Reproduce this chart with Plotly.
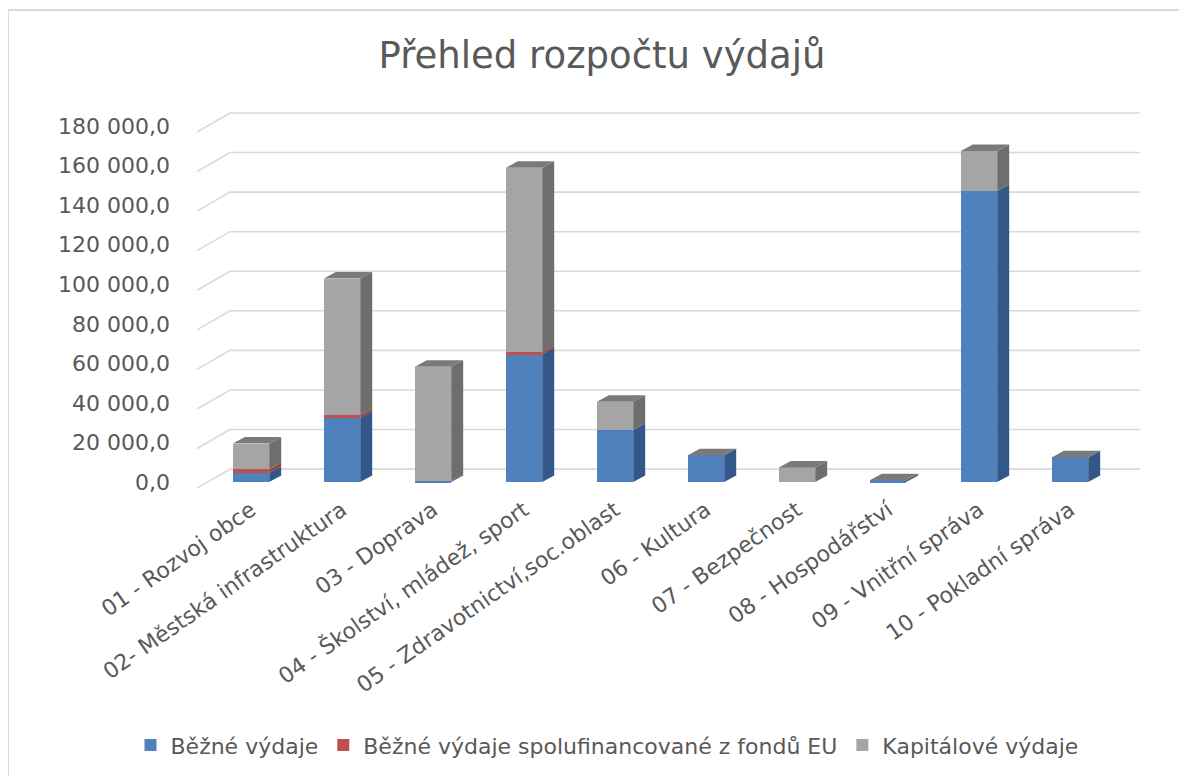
import plotly.graph_objects as go

# ---------------- data ----------------
categories = [
    "01 - Rozvoj obce",
    "02- Městská infrastruktura",
    "03 - Doprava",
    "04 - Školství, mládež, sport",
    "05 - Zdravotnictví,soc.oblast",
    "06 - Kultura",
    "07 - Bezpečnost",
    "08 - Hospodářství",
    "09 - Vnitřní správa",
    "10 - Pokladní správa",
]
bezne_vydaje = [4700, 32500, 500, 64600, 26300, 13600, 0, 1000, 147100, 12500]
bezne_eu = [1700, 1300, 0, 1000, 0, 0, 0, 0, 0, 0]
kapitalove = [13100, 69100, 57800, 93300, 14300, 0, 7400, 0, 20200, 0]

series_names = ["Běžné výdaje", "Běžné výdaje spolufinancované z fondů EU", "Kapitálové výdaje"]
tick_values = [0, 20000, 40000, 60000, 80000, 100000, 120000, 140000, 160000, 180000]
tick_labels = ["0,0", "20 000,0", "40 000,0", "60 000,0", "80 000,0", "100 000,0",
               "120 000,0", "140 000,0", "160 000,0", "180 000,0"]

# ---------------- styling / geometry ----------------
OFF = 8                      # page body margin in the browser
W, H = 1187 - OFF, 776 - OFF
front_colors = ["#4f81bd", "#c0504d", "#a5a5a5"]
side_colors = ["#34578a", "#963c3a", "#6e6e6e"]
top_color = "#7a7a7a"
grid_color = "#d9d9d9"
text_color = "#595959"
FONT = "DejaVu Sans"

# target geometry in screen pixels
plot_left_s, plot_right_s, plot_top_s = 185, 1150, 100
zero_s = 482.0
px_per_unit = 1.978 / 1000.0
px_per_cat = 91.0
first_center_s = 251.0
ymin = -5000
plot_bottom_s = zero_s - ymin * px_per_unit

margin_l = plot_left_s - OFF
margin_r = W - (plot_right_s - OFF)
margin_t = plot_top_s - OFF
margin_b = H - (plot_bottom_s - OFF)
plot_w = W - margin_l - margin_r
plot_h = H - margin_t - margin_b
ymax = ymin + plot_h / px_per_unit
xmin = (plot_left_s - first_center_s) / px_per_cat
xmax = (plot_right_s - first_center_s) / px_per_cat

bar_w = 0.4
dx = 12.0 / px_per_cat
dy = 6.5 / px_per_unit

def sx(px):   # screen x -> paper
    return (px - plot_left_s) / plot_w

def sy(py):   # screen y -> paper
    return (plot_bottom_s - py) / plot_h

fig = go.Figure()

x_pos = list(range(len(categories)))
all_series = [bezne_vydaje, bezne_eu, kapitalove]

for name, vals, col in zip(series_names, all_series, front_colors):
    fig.add_trace(go.Bar(
        x=x_pos, y=vals, name=name, width=bar_w,
        marker=dict(color=col, line=dict(width=0)),
        hoverinfo="skip",
    ))

# 3D side and top faces, derived from the data
for i in x_pos:
    base = 0
    xr = i + bar_w / 2
    xl = i - bar_w / 2
    for s, vals in enumerate(all_series):
        v = vals[i]
        if v > 0:
            y0, y1 = base, base + v
            fig.add_trace(go.Scatter(
                x=[xr, xr + dx, xr + dx, xr, xr],
                y=[y0, y0 + dy, y1 + dy, y1, y0],
                fill="toself", fillcolor=side_colors[s], mode="lines",
                line=dict(width=0, color=side_colors[s]),
                showlegend=False, hoverinfo="skip",
            ))
        base += v
    T = base
    fig.add_trace(go.Scatter(
        x=[xl, xl + dx, xr + dx, xr, xl],
        y=[T, T + dy, T + dy, T, T],
        fill="toself", fillcolor=top_color, mode="lines",
        line=dict(width=0, color=top_color),
        showlegend=False, hoverinfo="skip",
    ))

# back-wall gridlines with floor connectors
front_off = -6.0 / px_per_unit
back_off = 13.0 / px_per_unit
xa = (197 - first_center_s) / px_per_cat
xb = (230 - first_center_s) / px_per_cat
xc = (1140 - first_center_s) / px_per_cat
shapes = []
for v in tick_values:
    path = f"M {xa},{v + front_off} L {xb},{v + back_off} L {xc},{v + back_off}"
    shapes.append(dict(type="path", xref="x", yref="y", path=path,
                       line=dict(color=grid_color, width=1.6), layer="below"))

# chart border
shapes.append(dict(type="rect", xref="paper", yref="paper",
                   x0=sx(8), x1=sx(1187 + 20),
                   y0=sy(776 + 20), y1=sy(10),
                   line=dict(color="#d9d9d9", width=2), fillcolor="rgba(0,0,0,0)",
                   layer="below"))

fig.update_layout(
    width=W, height=H,
    barmode="stack",
    paper_bgcolor="white", plot_bgcolor="white",
    margin=dict(l=margin_l, r=margin_r, t=margin_t, b=margin_b, autoexpand=False),
    title=dict(text="Přehled rozpočtu výdajů", font=dict(family=FONT, size=37, color=text_color),
               xref="paper", x=sx(602), xanchor="center",
               yref="container", y=1 - (55 - OFF) / H, yanchor="middle"),
    xaxis=dict(range=[xmin, xmax], tickmode="array", tickvals=x_pos, ticktext=categories,
               tickangle=-35, showgrid=False, zeroline=False, showline=False,
               ticks="", tickfont=dict(family=FONT, size=22, color=text_color),
               automargin=False, fixedrange=True),
    yaxis=dict(range=[ymin, ymax], tickmode="array", tickvals=tick_values, ticktext=tick_labels,
               showgrid=False, zeroline=False, showline=False, ticks="",
               tickfont=dict(family=FONT, size=22, color=text_color),
               automargin=False, fixedrange=True, ticklabelstandoff=14),
    legend=dict(orientation="h", xref="paper", x=sx(607), xanchor="center",
                yref="paper", y=sy(745), yanchor="middle",
                font=dict(family=FONT, size=22, color=text_color),
                itemwidth=30, traceorder="normal"),
    shapes=shapes,
    showlegend=True,
)

fig.write_html("out.html")
